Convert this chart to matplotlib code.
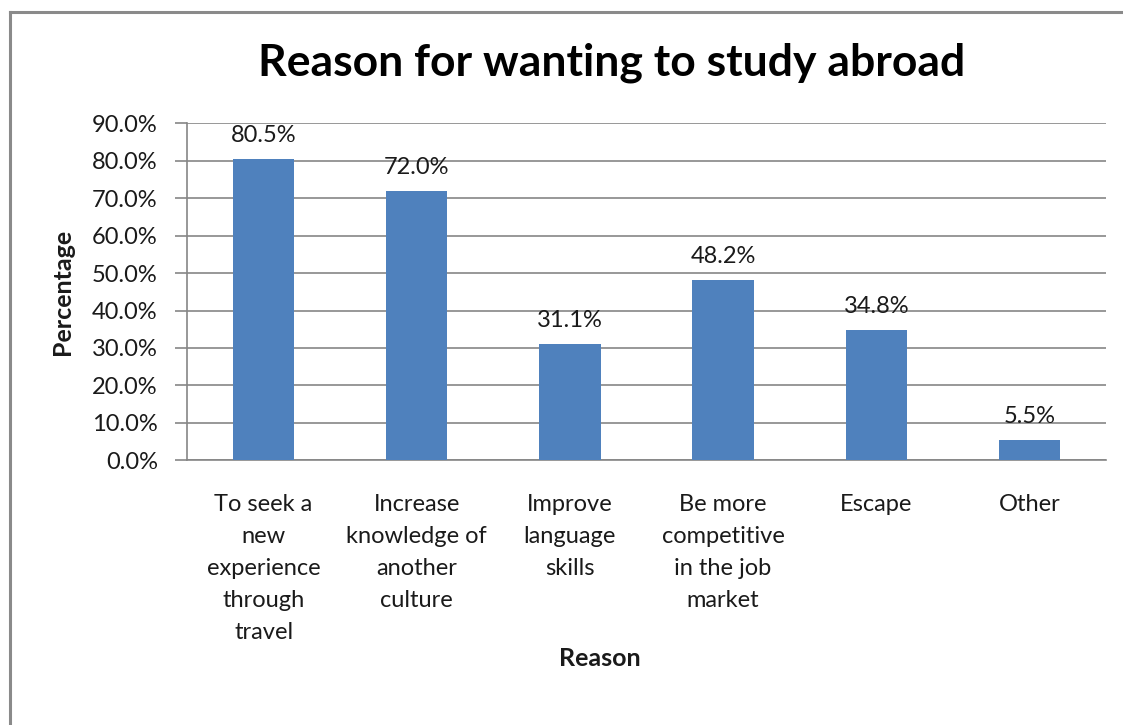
import matplotlib
matplotlib.use("Agg")
import matplotlib.pyplot as plt
from matplotlib.lines import Line2D
from matplotlib.ticker import FuncFormatter

categories = ["To seek a\nnew\nexperience\nthrough\ntravel",
              "Increase\nknowledge of\nanother\nculture",
              "Improve\nlanguage\nskills",
              "Be more\ncompetitive\nin the job\nmarket",
              "Escape",
              "Other"]
values = [80.5, 72.0, 31.1, 48.2, 34.8, 5.5]
yticks = [0, 10, 20, 30, 40, 50, 60, 70, 80, 90]
title = "Reason for wanting to study abroad"
xlabel = "Reason"
ylabel = "Percentage"

plt.rcParams['font.family'] = ['Lato', 'DejaVu Sans']
txt = '#1a1a1a'
grid = '#868686'

fig = plt.figure(figsize=(11.23, 7.25), dpi=100)
fig.patch.set_facecolor('white')
# outer frame (top and left edges visible)
ytop = 1 - 11.5/725
xl = 10/1123
fig.add_artist(Line2D([xl, 1.0], [ytop, ytop], transform=fig.transFigure,
                      color='#8a8a8a', linewidth=2.2))
fig.add_artist(Line2D([xl, xl], [0.0, ytop], transform=fig.transFigure,
                      color='#8a8a8a', linewidth=2.2))

ax = fig.add_axes([187/1123, 1 - 460.3/725, (1106 - 187)/1123, (460.3 - 123.3)/725])
x = list(range(len(categories)))
ax.bar(x, values, width=0.4, color='#4F81BD', zorder=3)
ax.set_xlim(-0.5, len(categories) - 0.5)
ax.set_ylim(0, 90)
ax.set_yticks(yticks)
ax.yaxis.set_major_formatter(FuncFormatter(lambda v, p: f"{v:.1f}%"))
ax.set_xticks(x)
ax.set_xticklabels(categories, linespacing=1.65, va='top')
ax.tick_params(axis='x', length=0, pad=24, labelsize=17, colors=txt)
ax.tick_params(axis='y', length=9, width=1.2, color=grid, pad=12, labelsize=17, colors=txt)
ax.grid(axis='y', color=grid, linewidth=1.2, zorder=0)
for s in ['top', 'right']:
    ax.spines[s].set_visible(False)
for s in ['left', 'bottom']:
    ax.spines[s].set_color(grid)
    ax.spines[s].set_linewidth(1.2)

for xi, v in zip(x, values):
    ax.annotate(f"{v:.1f}%", (xi, v), xytext=(0, 9), textcoords='offset points',
                ha='center', va='bottom', fontsize=17, color=txt)

fig.text(612/1123, 1 - 63/725, title, ha='center', va='center',
         fontsize=32, fontweight='bold', color='black')
fig.text(600/1123, 1 - 658/725, xlabel, ha='center', va='center',
         fontsize=18, fontweight='bold', color=txt)
fig.text(62/1123, 1 - 292/725, ylabel, ha='center', va='center', rotation=90,
         fontsize=18, fontweight='bold', color=txt)

fig.savefig("out.png", dpi=100)
